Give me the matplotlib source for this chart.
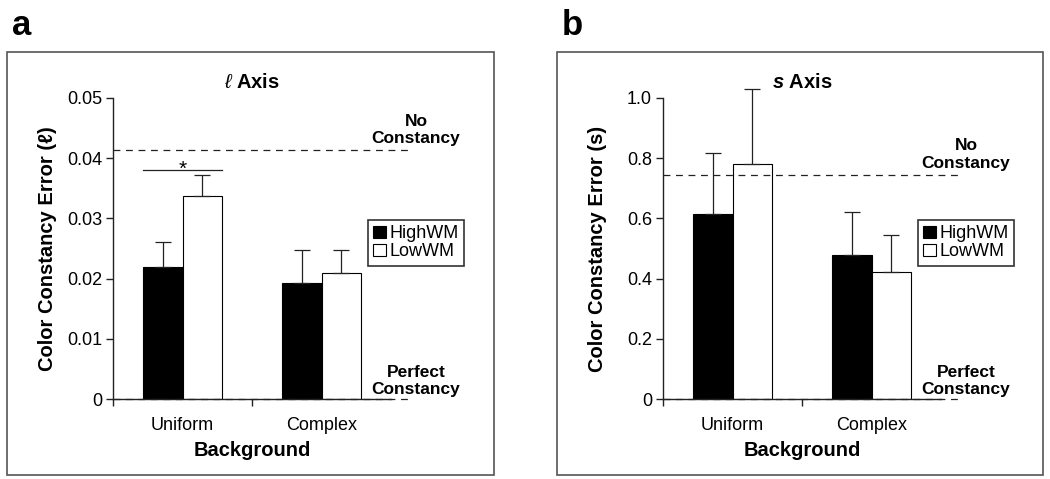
import numpy as np
import matplotlib.pyplot as plt
from matplotlib.patches import Rectangle

plt.rcParams['font.family'] = ['Liberation Sans', 'DejaVu Sans']
plt.rcParams['mathtext.fontset'] = 'custom'
plt.rcParams['mathtext.rm'] = 'Liberation Sans'
plt.rcParams['mathtext.it'] = 'Liberation Sans:italic'
plt.rcParams['mathtext.bf'] = 'Liberation Sans:bold'
plt.rcParams['mathtext.bfit'] = 'Liberation Sans:italic:bold'

CATEGORIES = ['Uniform', 'Complex']
GROUPS = ['HighWM', 'LowWM']

# panel a: l axis
L_HIGH = [0.0220, 0.0192]
L_LOW = [0.0337, 0.0210]
L_HIGH_ERR = [0.0040, 0.0056]
L_LOW_ERR = [0.0035, 0.0038]
L_NO_CONSTANCY = 0.0413
L_SIG_Y = 0.0380
L_TICKS = [0, 0.01, 0.02, 0.03, 0.04, 0.05]
L_TICKLABELS = ['0', '0.01', '0.02', '0.03', '0.04', '0.05']

# panel b: s axis
S_HIGH = [0.613, 0.480]
S_LOW = [0.780, 0.422]
S_HIGH_ERR = [0.204, 0.141]
S_LOW_ERR = [0.250, 0.124]
S_NO_CONSTANCY = 0.744
S_TICKS = [0, 0.2, 0.4, 0.6, 0.8, 1.0]
S_TICKLABELS = ['0', '0.2', '0.4', '0.6', '0.8', '1.0']

W, H = 1050, 479
fig = plt.figure(figsize=(10.5, 4.79), dpi=100)

LINE = '#222222'
BAR_W = 0.284


def panel(left_px, box, high, low, high_err, low_err, no_const, ticks, ticklabels,
          title, ylabel, letter, sig_y=None):
    ax = fig.add_axes([left_px / W, 1 - 399 / H, 278 / W, 301 / H])
    x = np.arange(len(CATEGORIES))
    ax.bar(x - BAR_W / 2, high, BAR_W, color='black', edgecolor='black', lw=0.8,
           label=GROUPS[0], zorder=2)
    ax.bar(x + BAR_W / 2, low, BAR_W, color='white', edgecolor='black', lw=0.8,
           label=GROUPS[1], zorder=2)
    for xs, ys, es in [(x - BAR_W / 2, high, high_err), (x + BAR_W / 2, low, low_err)]:
        eb = ax.errorbar(xs, ys, yerr=[np.zeros(len(es)), es], fmt='none', ecolor=LINE,
                         elinewidth=0.9, capsize=6, capthick=0.9, zorder=3)
        for art in eb.lines[1] + eb.lines[2]:
            art.set_clip_on(False)

    ax.set_xlim(-0.5, 1.5)
    ax.set_ylim(ticks[0], ticks[-1])
    # reference lines, running a little past the axis end
    for yv in [0, no_const]:
        ax.plot([-0.5, 1.64], [yv, yv], color=LINE, lw=0.9, dashes=(5.5, 4.5),
                clip_on=False, zorder=4)

    if sig_y is not None:
        ax.plot([-BAR_W, BAR_W], [sig_y, sig_y], color=LINE, lw=0.9, zorder=3)
        ax.text(0, sig_y - 0.016 * ticks[-1], '*', ha='center', va='baseline', fontsize=15)

    ax.text(1.68, no_const + 0.014 * ticks[-1], 'No\nConstancy', ha='center', va='bottom',
            fontsize=12.5, fontweight='bold', linespacing=1.2)
    ax.text(1.68, 0.005 * ticks[-1], 'Perfect\nConstancy', ha='center', va='bottom',
            fontsize=12.5, fontweight='bold', linespacing=1.2)

    for s in ['top', 'right']:
        ax.spines[s].set_visible(False)
    for s in ['left', 'bottom']:
        ax.spines[s].set_color(LINE)
        ax.spines[s].set_linewidth(1.0)

    ax.set_yticks(ticks)
    ax.set_yticklabels(ticklabels)
    ax.tick_params(axis='y', direction='out', length=5, width=1.0, color=LINE,
                   labelsize=13, pad=3)
    ax.set_xticks([-0.5, 0.5])
    ax.set_xticklabels(['', ''])
    ax.set_xticks(x, minor=True)
    ax.set_xticklabels(CATEGORIES, minor=True)
    ax.tick_params(axis='x', which='major', direction='out', length=5, width=1.0, color=LINE)
    ax.tick_params(axis='x', which='minor', length=0, labelsize=13, pad=13)

    ax.set_xlabel('Background', fontsize=14.5, fontweight='bold')
    ax.xaxis.set_label_coords(0.5, -0.14)
    ax.set_ylabel(ylabel, fontsize=14.5, fontweight='bold')
    ax.yaxis.set_label_coords(-0.2, 0.5)
    ax.set_title(title, fontsize=14.5, fontweight='bold', pad=7)

    leg = ax.legend(loc='upper left', bbox_to_anchor=((left_px + 255) / W, 1 - 220 / H),
                    bbox_transform=fig.transFigure, borderaxespad=0, fontsize=13,
                    frameon=True, fancybox=False, handlelength=0.7, handleheight=0.7,
                    handletextpad=0.2, labelspacing=0.05, borderpad=0.3)
    leg.get_frame().set_edgecolor('black')
    leg.get_frame().set_linewidth(1.2)
    for hnd in leg.legend_handles:
        hnd.set_linewidth(0.8)

    bx0, by0, bx1, by1 = box
    fig.patches.append(Rectangle((bx0 / W, 1 - by1 / H), (bx1 - bx0) / W, (by1 - by0) / H,
                                 transform=fig.transFigure, fill=False,
                                 edgecolor='#555555', lw=1.2))
    fig.text((bx0 + 5) / W, 1 - 35 / H, letter, fontsize=25, fontweight='bold',
             ha='left', va='baseline')
    return ax


panel(113, (7, 52, 494, 475), L_HIGH, L_LOW, L_HIGH_ERR, L_LOW_ERR, L_NO_CONSTANCY,
      L_TICKS, L_TICKLABELS, '$\\mathit{\u2113}$ Axis',
      'Color Constancy Error (\u2113)', 'a', sig_y=L_SIG_Y)
panel(663, (557, 52, 1043, 475), S_HIGH, S_LOW, S_HIGH_ERR, S_LOW_ERR, S_NO_CONSTANCY,
      S_TICKS, S_TICKLABELS, r'$\mathbfit{s}$ Axis', 'Color Constancy Error (s)', 'b')

fig.savefig('out.png', dpi=100)
